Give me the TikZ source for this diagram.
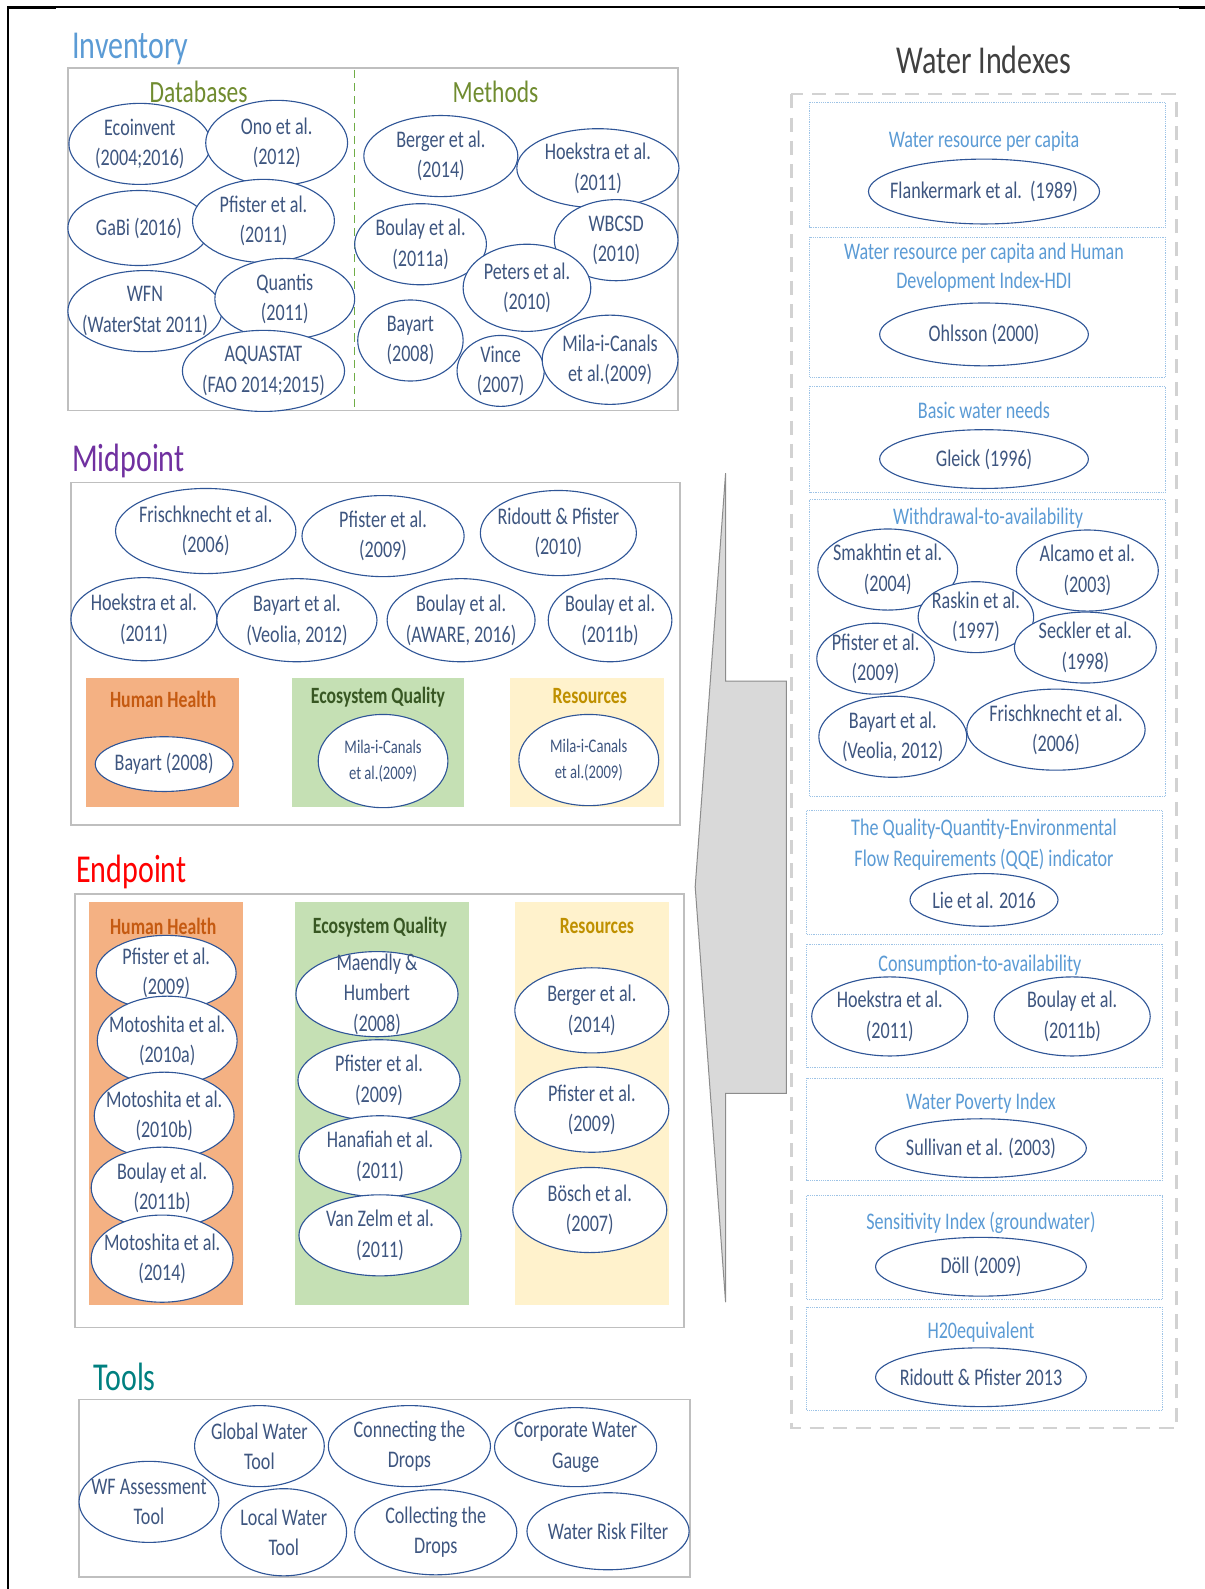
\documentclass[tikz,border=0pt]{standalone}
\usepackage{fontspec}
\setmainfont{Carlito}[FakeStretch=0.76]
\usetikzlibrary{shapes.geometric}

\definecolor{elline}{RGB}{47,85,151}
\definecolor{eltext}{RGB}{62,86,128}
\definecolor{boxgrey}{RGB}{191,191,191}
\definecolor{invblue}{RGB}{91,155,213}
\definecolor{olivec}{RGB}{112,140,48}
\definecolor{divgreen}{RGB}{112,173,71}
\definecolor{midpurple}{RGB}{112,48,160}
\definecolor{endred}{RGB}{255,0,0}
\definecolor{tealc}{RGB}{0,128,128}
\definecolor{hhfill}{RGB}{244,177,131}
\definecolor{hhtext}{RGB}{197,90,17}
\definecolor{eqfill}{RGB}{197,224,180}
\definecolor{eqtext}{RGB}{56,87,35}
\definecolor{resfill}{RGB}{255,242,204}
\definecolor{restext}{RGB}{191,144,0}
\definecolor{lblblue}{RGB}{91,155,213}
\definecolor{subline}{RGB}{157,195,230}
\definecolor{dashgrey}{RGB}{210,210,210}
\definecolor{arrowfill}{RGB}{217,217,217}
\definecolor{arrowline}{RGB}{140,140,140}
\definecolor{titlegrey}{RGB}{64,64,64}

% ellipse with its text: [text style]{name}{x}{y}{x radius}{y radius}{text}
\newcommand{\bub}[7][]{%
  \draw[bubline] (#3,#4) ellipse [x radius=#5pt, y radius=#6pt];
  \node[bubtext,#1] (#2) at (#3,#4) {#7};}

\begin{document}
\begin{tikzpicture}[x=1pt,y=-1pt,
  bubline/.style={draw=elline, line width=1.1pt, fill=white},
  bubtext/.style={text=eltext, align=center, inner sep=0pt, font=\fontsize{23.5}{30}\selectfont},
  smalltext/.style={font=\fontsize{19}{25}\selectfont},
  title/.style={anchor=base west, inner sep=0pt, font=\fontsize{39}{42}\selectfont},
  subhead/.style={anchor=base, inner sep=0pt, font=\fontsize{30.5}{33}\selectfont, text=olivec},
  cathead/.style={anchor=base, inner sep=0pt, font=\fontsize{23}{26}\selectfont\bfseries},
  panel/.style={draw=boxgrey, line width=1.5pt},
  wlabel/.style={anchor=base, inner sep=0pt, text=lblblue, font=\fontsize{23.5}{30}\selectfont},
  subbox/.style={draw=subline, line width=0.8pt, densely dotted}
]
\fill[white] (0,0) rectangle (1189,1568);
\useasboundingbox (0,0) rectangle (1189,1568);

% page frame
\draw[black, line width=1.8pt] (8,1568) -- (8,7) -- (1189,7);
\draw[black, line width=3pt] (7,7) -- (55,7);
\draw[black, line width=3pt] (1163,7) -- (1189,7);

% ---------------- Inventory ----------------
\node[title, text=invblue] (tInv) at (71,58) {Inventory};
\draw[panel] (67,67) rectangle (669,405);
\draw[divgreen, line width=1.2pt, dash pattern=on 8pt off 5pt] (350,69) -- (350,404);

\bub{iEco}{138}{142}{70}{40}{Ecoinvent\\(2004;2016)}
\bub{iOno}{273}{141}{70}{42}{Ono et al.\\(2012)}
\bub{iGabi}{137}{225}{70}{37}{GaBi (2016)}
\bub{iPf}{260}{218}{70}{41}{Pfister et al.\\(2011)}
\bub{iWfn}{143}{307}{76}{40}{WFN\\(WaterStat 2011)}
\bub{iQua}{281}{295}{69}{40}{Quantis\\(2011)}
\bub{iAqua}{260}{366}{80}{40}{AQUASTAT\\(FAO 2014;2015)}

\bub{mBer}{435}{154}{76}{40}{Berger et al.\\(2014)}
\bub{mHoek}{590}{166}{80}{39}{Hoekstra et al.\\(2011)}
\bub{mBou}{415}{241}{65}{40}{Boulay et al.\\(2011a)}
\bub{mWb}{608}{237}{61}{40}{WBCSD\\(2010)}
\bub{mPet}{520}{284}{63}{43}{Peters et al.\\(2010)}
\bub{mBay}{405}{336}{52}{40}{Bayart\\(2008)}
\bub{mVin}{494}{366}{43}{35}{Vince\\(2007)}
\bub{mMila}{602}{355}{67}{44}{Mila-i-Canals\\et al.(2009)}

\node[subhead] (tDb) at (196,101) {Databases};
\node[subhead] (tMe) at (489,101) {Methods};

% ---------------- Midpoint ----------------
\node[title, text=midpurple] (tMid) at (71,465) {Midpoint};
\draw[panel] (70,476) rectangle (671,814);

\bub{pFri}{203}{524}{89}{42}{Frischknecht et al.\\(2006)}
\bub{pPf}{378}{529}{80}{40}{Pfister et al.\\(2009)}
\bub{pRid}{551}{526}{77}{42}{Ridoutt \& Pfister\\(2010)}
\bub{pHoek}{142}{611}{72}{41}{Hoekstra et al.\\(2011)}
\bub{pBay}{293}{612}{79}{41}{Bayart et al.\\(Veolia, 2012)}
\bub{pAw}{455}{612}{73}{41}{Boulay et al.\\(AWARE, 2016)}
\bub{pBou}{602}{612}{61}{41}{Boulay et al.\\(2011b)}

\fill[hhfill] (85,669) rectangle (236,796);
\fill[eqfill] (288,669) rectangle (458,796);
\fill[resfill] (503,669) rectangle (655,796);
\node[cathead, text=hhtext] (pHH) at (161,698) {Human Health};
\node[cathead, text=eqtext] (pEQ) at (373,694) {Ecosystem Quality};
\node[cathead, text=restext] (pRes) at (582,694) {Resources};
\bub{pHHb}{162}{754}{68}{27}{Bayart (2008)}
\bub[smalltext]{pEQb}{378}{751}{64}{46}{Mila-i-Canals\\et al.(2009)}
\bub[smalltext]{pResb}{581}{750}{69}{45}{Mila-i-Canals\\et al.(2009)}

% ---------------- Endpoint ----------------
\node[title, text=endred] (tEnd) at (75,871) {Endpoint};
\draw[panel] (74,882) rectangle (675,1310);
\fill[hhfill] (88,890) rectangle (240,1288);
\fill[eqfill] (291,890) rectangle (463,1288);
\fill[resfill] (508,890) rectangle (660,1288);
\node[cathead, text=hhtext] (eHH) at (161,922) {Human Health};
\node[cathead, text=eqtext] (eEQ) at (375,921) {Ecosystem Quality};
\node[cathead, text=restext] (eRes) at (589,921) {Resources};

\bub{eH1}{164}{960}{69}{37}{Pfister et al.\\(2009)}
\bub{eH2}{165}{1027}{69}{44}{Motoshita et al.\\(2010a)}
\bub{eH3}{162}{1101}{69}{43}{Motoshita et al.\\(2010b)}
\bub{eH4}{160}{1172}{70}{40}{Boulay et al.\\(2011b)}
\bub{eH5}{160}{1242}{70}{43}{Motoshita et al.\\(2014)}

\bub{eE1}{372}{981}{80}{42}{Maendly \&\\Humbert\\(2008)}
\bub{eE2}{374}{1066}{80}{40}{Pfister et al.\\(2009)}
\bub{eE3}{375}{1141}{80}{40}{Hanafiah et al.\\(2011)}
\bub{eE4}{375}{1219}{80}{40}{Van Zelm et al.\\(2011)}

\bub{eR1}{584}{997}{76}{42}{Berger et al.\\(2014)}
\bub{eR2}{584}{1095}{76}{42}{Pfister et al.\\(2009)}
\bub{eR3}{582}{1194}{76}{42}{Bösch et al.\\(2007)}

% ---------------- Tools ----------------
\node[title, text=tealc] (tTools) at (92,1372) {Tools};
\draw[panel] (78,1381) rectangle (681,1556);
\bub{tGlob}{256}{1427}{64}{40}{Global Water\\Tool}
\bub{tConn}{404}{1427}{80}{40}{Connecting the\\Drops}
\bub{tCorp}{568}{1428}{80}{39}{Corporate Water\\Gauge}
\bub{tWf}{147}{1482}{69}{40}{WF Assessment\\Tool}
\bub{tLoc}{280}{1512}{62}{43}{Local Water\\Tool}
\bub{tColl}{430}{1512}{80}{42}{Collecting the\\Drops}
\bub{tRisk}{600}{1511}{80}{38}{Water Risk Filter}

% ---------------- flow arrow ----------------
\draw[draw=arrowline, fill=arrowfill, line width=1pt]
  (716,467) -- (716,672) -- (776,672) -- (776,1079) -- (716,1079) -- (716,1285) -- (686,875) -- cycle;

% ---------------- Water Indexes ----------------
\node[anchor=base, inner sep=0pt, text=titlegrey, font=\fontsize{39}{42}\selectfont] (tWI) at (971,73) {Water Indexes};
\draw[dashgrey, line width=2.2pt, dash pattern=on 14pt off 9pt] (781,93) rectangle (1161,1409);

\draw[subbox] (799,101) rectangle (1150,224);
\node[wlabel] (w1) at (971,146) {Water resource per capita};
\bub{w1a}{971}{189}{114}{32}{Flankermark et al.\ \ (1989)}

\draw[subbox] (799,234) rectangle (1150,372);
\node[wlabel] (w2) at (971,256) {Water resource per capita and Human};
\node[wlabel] (w2b) at (971,285) {Development Index-HDI};
\bub{w2a}{971}{330}{103}{31}{Ohlsson (2000)}

\draw[subbox] (799,381) rectangle (1150,486);
\node[wlabel] (w3) at (971,413) {Basic water needs};
\bub{w3a}{971}{453}{103}{29}{Gleick (1996)}

\draw[subbox] (799,493) rectangle (1150,786);
\node[wlabel] (w4) at (975,518) {Withdrawal-to-availability};
\bub{w4a}{876}{562}{69}{40}{Smakhtin et al.\\(2004)}
\bub{w4b}{1073}{563}{70}{40}{Alcamo et al.\\(2003)}
\bub{w4c}{963}{609}{57}{35}{Raskin et al.\\(1997)}
\bub{w4d}{864}{650}{58}{35}{Pfister et al.\\(2009)}
\bub{w4e}{1071}{639}{70}{35}{Seckler et al.\\(1998)}
\bub{w4f}{881}{727}{73}{40}{Bayart et al.\\(Veolia, 2012)}
\bub{w4g}{1042}{720}{88}{40}{Frischknecht et al.\\(2006)}

\draw[subbox] (796,800) rectangle (1147,922);
\node[wlabel] (w5) at (971,824) {The Quality-Quantity-Environmental};
\node[wlabel] (w5b) at (971,855) {Flow Requirements (QQE) indicator};
\bub{w5a}{971}{888}{73}{26}{Lie et al. 2016}

\draw[subbox] (796,932) rectangle (1147,1053);
\node[wlabel] (w6) at (967,959) {Consumption-to-availability};
\bub{w6a}{878}{1003}{77}{39}{Hoekstra et al.\\(2011)}
\bub{w6b}{1058}{1003}{77}{39}{Boulay et al.\\(2011b)}

\draw[subbox] (796,1064) rectangle (1147,1165);
\node[wlabel] (w7) at (968,1095) {Water Poverty Index};
\bub{w7a}{968}{1133}{104}{29}{Sullivan et al. (2003)}

\draw[subbox] (796,1180) rectangle (1147,1282);
\node[wlabel] (w8) at (968,1213) {Sensitivity Index (groundwater)};
\bub{w8a}{968}{1250}{104}{29}{Döll (2009)}

\draw[subbox] (796,1290) rectangle (1147,1392);
\node[wlabel] (w9) at (968,1321) {H20equivalent};
\bub{w9a}{968}{1359}{104}{29}{Ridoutt \& Pfister 2013}

\end{tikzpicture}
\end{document}
